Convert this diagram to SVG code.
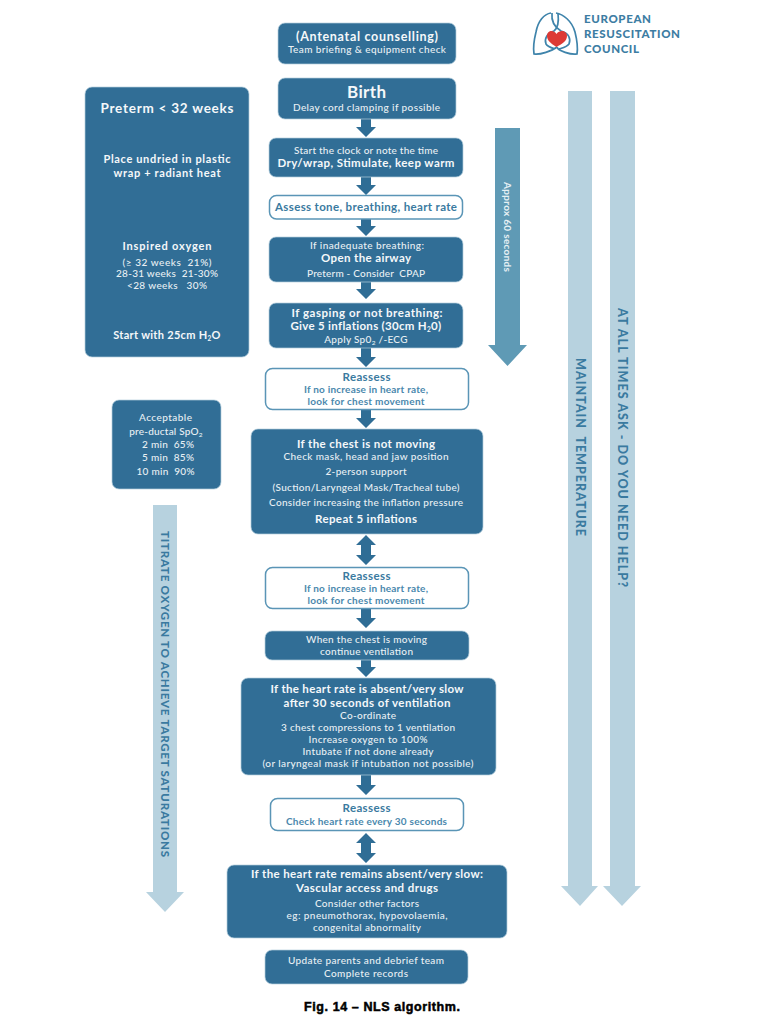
<svg xmlns="http://www.w3.org/2000/svg" width="763" height="1024" viewBox="0 0 763 1024">
<style>
text{font-family:"Lato","Open Sans","Liberation Sans",sans-serif;text-anchor:middle;white-space:pre}
.bg{fill:#fff}
.d{fill:#316e96;stroke:#b5cfdc;stroke-width:.7}
.w{fill:#fff;stroke:#5a95b6;stroke-width:1.5}
.a{fill:#2f6d95}
.l{fill:#b7d2df}
.m{fill:#5f9ab5}
.n{fill:#e9f0f4;font-size:10px;font-weight:500}
.b{fill:#f5f8fa;font-size:11.500px;font-weight:700}
.wb{fill:#3a7aa0;font-size:11.500px;font-weight:700}
.wn{fill:#4a88ad;font-size:10px;font-weight:700}
.v{fill:#3a7aa0;font-size:12.500px;font-weight:900}
.s{font-size:6.500px}
.lt{fill:#3d7da3;font-size:11.500px;font-weight:900;text-anchor:start}
</style>
<rect class="bg" width="763" height="1024"/>

<g id="side-arrows">
<g id="approx-60-seconds"><polygon class="m" points="495,128 520,128 520,345 527,345 507.500,366 488,345 495,345"/><text transform="translate(504,227) rotate(90)" textLength="90" style="font-size:10px;font-weight:700;fill:#e6f0f4">Approx 60 seconds</text></g>
<g id="maintain-temperature"><polygon class="l" points="568,91 592,91 592,886 598,886 580,906 561,886 568,886"/><text class="v" transform="translate(575.500,447) rotate(90)" textLength="178">MAINTAIN  TEMPERATURE</text></g>
<g id="ask-help"><polygon class="l" points="610,91 635,91 635,886 641,886 622,906 603,886 610,886"/><text class="v" transform="translate(617.500,447.500) rotate(90)" textLength="279">AT ALL TIMES ASK - DO YOU NEED HELP?</text></g>
<g id="titrate-oxygen"><polygon class="l" points="153,505 177,505 177,892 184,892 165,912 146,892 153,892"/><text class="v" transform="translate(160.500,694) rotate(90)" style="font-size:11.500px" textLength="326">TITRATE OXYGEN TO ACHIEVE TARGET SATURATIONS</text></g>
</g>

<g id="logo">
<path d="M551,13C544,14 538,21 536,32C534,40 533,48 534,54C540,55 552,51 557,47M558,13C559,22 558,28 554,31C547,33 544,39 546,44C548,47 552,48 555,49" fill="none" stroke="#3f84ab" stroke-width="1.700"/>
<path d="M556,13C563,14 572,21 575,32C577,40 578,48 577,54C571,55 558,51 557,47M552,13C551,22 556,28 561,31C569,33 571,39 569,44C567,47 562,48 559,49" fill="none" stroke="#3f84ab" stroke-width="1.700"/>
<path d="M556.500,47C550,43 547,40 547,36C547,31 553,29 556.500,34C560,29 567,31 567,36C567,41 562,44 556.500,47Z" fill="#dd3a35"/>
<text class="lt" x="584" y="23" textLength="67">EUROPEAN</text><text class="lt" x="584" y="38" textLength="96">RESUSCITATION</text><text class="lt" x="584" y="53" textLength="55">COUNCIL</text>
</g>

<g id="connectors">
<path class="a" d="M361,119h10v8h5l-10,10l-10,-10h5z"/>
<path class="a" d="M361,177h10v8h5l-10,10l-10,-10h5z"/>
<path class="a" d="M361,219h10v7h5l-10,10l-10,-10h5z"/>
<path class="a" d="M361,282h10v7h5l-10,10l-10,-10h5z"/>
<path class="a" d="M361,348h10v9h5l-10,10l-10,-10h5z"/>
<path class="a" d="M361,410h10v8h5l-10,10l-10,-10h5z"/>
<path class="a" d="M366,535l10,10h-5v10h5l-10,10l-10,-10h5v-10h-5z"/>
<path class="a" d="M361,609h10v9h5l-10,10l-10,-10h5z"/>
<path class="a" d="M361,660h10v7h5l-10,10l-10,-10h5z"/>
<path class="a" d="M361,775h10v10h5l-10,10l-10,-10h5z"/>
<path class="a" d="M366,833l10,10h-5v10h5l-10,10l-10,-10h5v-10h-5z"/>
</g>

<g id="antenatal"><rect class="d" x="278" y="23" width="178" height="41" rx="7"/><text class="b" x="367" y="41" style="font-size:12.500px" textLength="142">(Antenatal counselling)</text><text class="n" x="367" y="53" textLength="158">Team briefing &amp; equipment check</text></g>
<g id="birth"><rect class="d" x="278" y="78" width="178" height="41" rx="7"/><text class="b" x="366.500" y="98" style="font-size:17px" textLength="39">Birth</text><text class="n" x="366.500" y="111" textLength="147">Delay cord clamping if possible</text></g>
<g id="dry-wrap"><rect class="d" x="269" y="138" width="194" height="39" rx="7"/><text class="n" x="366" y="154" textLength="144">Start the clock or note the time</text><text class="b" x="366" y="167" textLength="177">Dry/wrap, Stimulate, keep warm</text></g>
<g id="assess"><rect class="w" x="269.500" y="195.500" width="193" height="23.500" rx="7"/><text class="wb" x="366" y="211" textLength="182">Assess tone, breathing, heart rate</text></g>
<g id="airway"><rect class="d" x="269" y="237" width="194" height="45" rx="7"/><text class="n" x="367" y="249" textLength="114">If inadequate breathing:</text><text class="b" x="366" y="262" textLength="90">Open the airway</text><text class="n" x="366" y="277" textLength="118">Preterm - Consider  CPAP</text></g>
<g id="inflations"><rect class="d" x="269" y="303" width="194" height="45" rx="7"/><text class="b" x="367" y="317" textLength="151">If gasping or not breathing:</text><text class="b" x="366" y="330" style="letter-spacing:.3px">Give 5 inflations (30cm H<tspan class="s" dy="2">2</tspan><tspan dy="-2">0)</tspan></text><text class="n" x="366" y="343" style="letter-spacing:.3px">Apply Sp0<tspan class="s" dy="2">2</tspan><tspan dy="-2"> /-ECG</tspan></text></g>
<g id="reassess-1"><rect class="w" x="265.500" y="368.500" width="203" height="41" rx="7"/><text class="wb" x="366.500" y="381" textLength="48">Reassess</text><text class="wn" x="366" y="393" textLength="124">If no increase in heart rate,</text><text class="wn" x="366" y="405" textLength="117">look for chest movement</text></g>
<g id="chest-not-moving"><rect class="d" x="251" y="429" width="232" height="105" rx="7"/><text class="b" x="366" y="448" textLength="138">If the chest is not moving</text><text class="n" x="366" y="460" textLength="165">Check mask, head and jaw position</text><text class="n" x="366" y="475" textLength="81">2-person support</text><text class="n" x="366" y="491" textLength="187">(Suction/Laryngeal Mask/Tracheal tube)</text><text class="n" x="366" y="506" textLength="194">Consider increasing the inflation pressure</text><text class="b" x="366" y="523" textLength="102">Repeat 5 inflations</text></g>
<g id="reassess-2"><rect class="w" x="265.500" y="567.500" width="203" height="41" rx="7"/><text class="wb" x="366.500" y="580" textLength="48">Reassess</text><text class="wn" x="366" y="592" textLength="124">If no increase in heart rate,</text><text class="wn" x="366" y="604" textLength="117">look for chest movement</text></g>
<g id="chest-moving"><rect class="d" x="265" y="631" width="204" height="29" rx="7"/><text class="n" x="366.500" y="643" textLength="121">When the chest is moving</text><text class="n" x="366.500" y="655" textLength="93">continue ventilation</text></g>
<g id="heart-rate-slow"><rect class="d" x="241" y="678" width="255" height="97" rx="7"/><text class="b" x="367" y="693" textLength="193">If the heart rate is absent/very slow</text><text class="b" x="367" y="707" textLength="167">after 30 seconds of ventilation</text><text class="n" x="368" y="719" textLength="56">Co-ordinate</text><text class="n" x="368" y="731" textLength="174">3 chest compressions to 1 ventilation</text><text class="n" x="368" y="743" textLength="119">Increase oxygen to 100%</text><text class="n" x="368" y="755" textLength="131">Intubate if not done already</text><text class="n" x="368" y="767" textLength="211">(or laryngeal mask if intubation not possible)</text></g>
<g id="reassess-3"><rect class="w" x="270.500" y="798.500" width="193" height="32" rx="7"/><text class="wb" x="366.500" y="812" textLength="48">Reassess</text><text class="wn" x="366.500" y="825" textLength="161">Check heart rate every 30 seconds</text></g>
<g id="vascular-access"><rect class="d" x="227" y="865" width="280" height="73" rx="7"/><text class="b" x="367" y="878" textLength="232">If the heart rate remains absent/very slow:</text><text class="b" x="367" y="892" textLength="142">Vascular access and drugs</text><text class="n" x="367" y="907" textLength="104">Consider other factors</text><text class="n" x="367" y="919" textLength="161">eg: pneumothorax, hypovolaemia,</text><text class="n" x="367" y="931" textLength="108">congenital abnormality</text></g>
<g id="debrief"><rect class="d" x="265" y="950" width="203" height="34" rx="7"/><text class="n" x="366" y="964" textLength="156">Update parents and debrief team</text><text class="n" x="366" y="977" textLength="84">Complete records</text></g>

<g id="preterm"><rect class="d" x="85" y="87" width="164" height="270" rx="7"/><text class="b" x="167" y="113" style="font-size:13.500px" textLength="133">Preterm &lt; 32 weeks</text><text class="b" x="167" y="163" style="font-size:11px" textLength="127">Place undried in plastic</text><text class="b" x="167" y="177" style="font-size:11px" textLength="107">wrap + radiant heat</text><text class="b" x="167" y="250" style="font-size:11px" textLength="89">Inspired oxygen</text><text class="n" x="167" y="266" textLength="89">(≥ 32 weeks  21%)</text><text class="n" x="167" y="277" textLength="102">28-31 weeks  21-30%</text><text class="n" x="167" y="289" textLength="80">&lt;28 weeks   30%</text><text class="b" x="167" y="339" style="font-size:11px;letter-spacing:.3px">Start with 25cm H<tspan class="s" dy="2">2</tspan><tspan dy="-2">O</tspan></text></g>
<g id="spo2"><rect class="d" x="112" y="400" width="109" height="89" rx="7"/><text class="n" x="165.500" y="421" textLength="53">Acceptable</text><text class="n" x="166" y="435" style="letter-spacing:.2px">pre-ductal SpO<tspan class="s" dy="2">2</tspan></text><text class="n" x="168" y="448" textLength="52">2 min  65%</text><text class="n" x="168" y="461" textLength="52">5 min  85%</text><text class="n" x="165.500" y="475" textLength="58">10 min  90%</text></g>

<text id="caption" x="382" y="1011" style="font-family:'Liberation Sans',Arial,sans-serif;font-size:12.500px;font-weight:700;fill:#000;stroke:#000;stroke-width:.5" textLength="156">Fig. 14 – NLS algorithm.</text>
</svg>
